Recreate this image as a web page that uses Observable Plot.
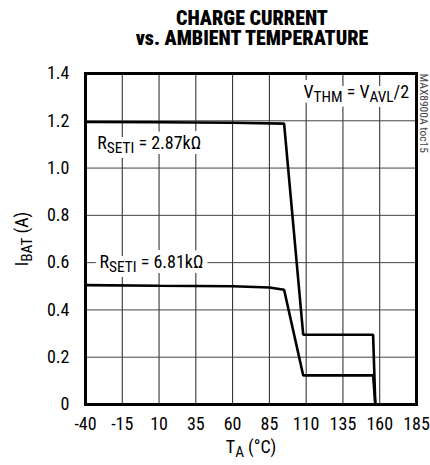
<!DOCTYPE html>
<html>
<head>
<meta charset="utf-8">
<script src="https://cdn.jsdelivr.net/npm/d3@7"></script>
<script src="https://cdn.jsdelivr.net/npm/@observablehq/plot@0.6"></script>
<style>
  body { margin: 0; background: #fff; }
  #title {
    width: 430px; height: 60px; box-sizing: border-box;
    padding: 8px 14px 0 88px; text-align: center;
    font-family: "Roboto Condensed", "Roboto", sans-serif; font-stretch: condensed;
    font-weight: 900; font-size: 20px; color: #000;
  }
  #title div { height: 20px; line-height: 20px; }
  svg { display: block; font-stretch: condensed; }
</style>
</head>
<body>
<div id="title"><div>CHARGE CURRENT</div><div>vs. AMBIENT TEMPERATURE</div></div>
<div id="chart"></div>
<script>
// Data
const xTicks = [-40, -15, 10, 35, 60, 85, 110, 135, 160, 185];
const yTicks = [0, 0.2, 0.4, 0.6, 0.8, 1.0, 1.2, 1.4];

const tempsR287 = [-40, 10, 60, 95, 108, 155.5, 157];
const ampsR287  = [1.195, 1.194, 1.192, 1.188, 0.295, 0.295, 0];

const tempsR681 = [-40, 10, 60, 85, 95, 108, 155.5, 157];
const ampsR681  = [0.505, 0.502, 0.5, 0.495, 0.485, 0.123, 0.123, 0];

const labelTexts = ["R_{SETI} = 2.87kΩ", "R_{SETI} = 6.81kΩ", "V_{THM} = V_{AVL}/2"];
const labelX = [-32, -30.5, 180];
const labelY = [1.105, 0.6, 1.322];
const labelAnchor = ["start", "start", "end"];

const seriesA = tempsR287.map((t, i) => ({t, a: ampsR287[i]}));
const seriesB = tempsR681.map((t, i) => ({t, a: ampsR681[i]}));
const labels = labelTexts.map((s, i) => ({s, x: labelX[i], y: labelY[i], anchor: labelAnchor[i]}));

const FONT = '"Roboto Condensed", "Roboto", sans-serif';

const labelMarks = (opts) => [
  Plot.text(labels.filter(d => d.anchor === "start"), {x: "x", y: "y", text: "s", textAnchor: "start", fontSize: 18, ...opts}),
  Plot.text(labels.filter(d => d.anchor === "end"), {x: "x", y: "y", text: "s", textAnchor: "end", fontSize: 18, ...opts})
];

const plot = Plot.plot({
  width: 430,
  height: 405,
  marginTop: 13,
  marginLeft: 85,
  marginRight: 14,
  marginBottom: 61,
  style: {fontFamily: FONT, fontSize: "18px", color: "#000", background: "#fff"},
  x: {domain: [-40, 185], ticks: xTicks, tickSize: 0, tickPadding: 13, tickFormat: d => String(d), label: "T_{A} (°C)", labelAnchor: "center", labelArrow: "none", labelOffset: 48},
  y: {domain: [0, 1.4], ticks: yTicks, tickSize: 0, tickPadding: 16, tickFormat: d => d === 0 ? "0" : d.toFixed(1), label: "I_{BAT} (A)", labelAnchor: "center", labelArrow: "none", labelOffset: 70},
  marks: [
    Plot.gridX(xTicks, {stroke: "#222", strokeOpacity: 1, strokeWidth: 1}),
    Plot.gridY(yTicks, {stroke: "#444", strokeOpacity: 1, strokeWidth: 1}),
    ...labelMarks({fill: "#fff", stroke: "#fff", strokeWidth: 10}),
    ...labelMarks({fill: "#000"}),
    Plot.line(seriesA, {x: "t", y: "a", stroke: "#000", strokeWidth: 2.6, strokeLinejoin: "miter"}),
    Plot.line(seriesB, {x: "t", y: "a", stroke: "#000", strokeWidth: 2.6, strokeLinejoin: "miter"}),
    Plot.frame({stroke: "#000", strokeWidth: 3}),
    Plot.text(["MAX8900A toc15"], {frameAnchor: "top-right", text: d => d, rotate: 90, textAnchor: "start", lineAnchor: "middle", dx: 7, dy: 0, fontSize: 11.5, fill: "#444"})
  ]
});

// Render "X_{sub}" markup as subscripts
d3.select(plot).selectAll("text").each(function() {
  const el = this;
  const targets = el.querySelectorAll("tspan").length ? Array.from(el.querySelectorAll("tspan")) : [el];
  targets.forEach(node => {
    const s = node.textContent;
    if (!s.includes("_{")) return;
    node.textContent = "";
    const parts = s.split(/(_\{[^}]*\})/);
    let shifted = false;
    parts.forEach(p => {
      if (!p) return;
      const ts = document.createElementNS("http://www.w3.org/2000/svg", "tspan");
      if (p.startsWith("_{")) {
        ts.textContent = p.slice(2, -1);
        ts.setAttribute("font-size", "0.85em");
        ts.setAttribute("dy", "4");
        shifted = true;
      } else {
        ts.textContent = p;
        if (shifted) { ts.setAttribute("dy", "-4"); shifted = false; }
      }
      node.appendChild(ts);
    });
  });
});

document.getElementById("chart").appendChild(plot);
</script>
</body>
</html>
